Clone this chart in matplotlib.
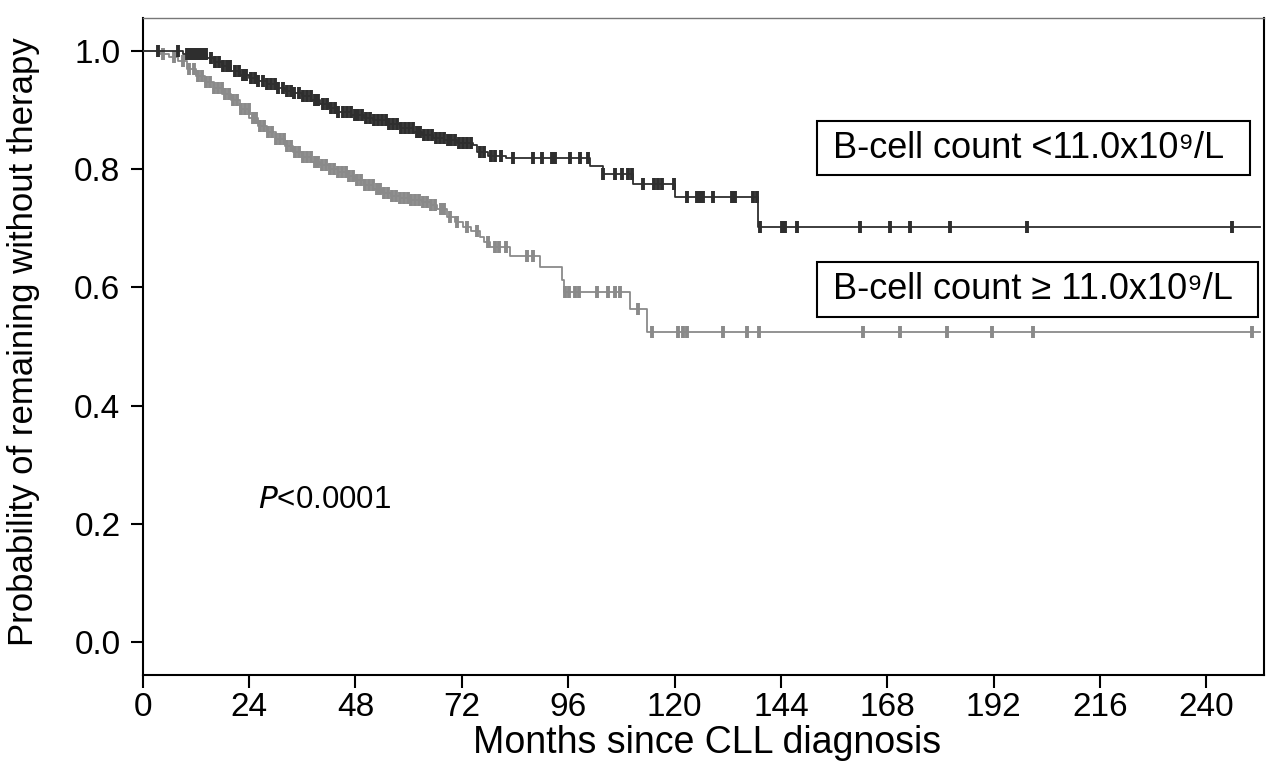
import numpy as np
import matplotlib
matplotlib.use('Agg')
import matplotlib.pyplot as plt
from matplotlib.patches import Rectangle

# Kaplan-Meier curves (months, probability)
low_t = [0, 9, 14.5, 16, 18, 20, 22, 24, 26, 28, 30, 32, 34, 36, 38, 40, 42, 44,
         47, 50, 52, 55, 58, 61, 63, 65.5, 68, 71, 74.5, 75.4, 78, 82, 101, 103.8,
         110.6, 120.1, 138.8]
low_s = [1.0, 0.995, 0.988, 0.982, 0.975, 0.966, 0.959, 0.955, 0.950, 0.944, 0.938,
         0.933, 0.929, 0.924, 0.918, 0.911, 0.904, 0.897, 0.892, 0.887, 0.883, 0.877,
         0.870, 0.863, 0.858, 0.853, 0.849, 0.845, 0.841, 0.829, 0.823, 0.819, 0.805,
         0.792, 0.775, 0.753, 0.703]
low_cens = [3.5, 8, 10, 10.6, 11.2, 11.8, 12.4, 13, 13.6, 14.2, 15.4, 16.3, 17.1, 18.2,
            19.0, 19.8, 20.9, 21.7, 22.6, 23.4, 24.5, 25.3, 26.1, 27.2, 28.0, 28.9,
            29.8, 30.6, 31.7, 32.5, 33.4, 34.2, 35.3, 36.1, 37.0, 37.9, 38.8, 39.6,
            40.7, 41.5, 42.4, 43.3, 44.1, 45.2, 46.0, 46.9, 47.8, 48.6, 49.5, 50.4,
            51.3, 52.1, 53.0, 53.9, 54.8, 55.6, 56.5, 57.4, 58.3, 59.1, 60.0, 60.9,
            61.8, 62.6, 63.5, 64.4, 65.3, 66.1, 67.0, 67.9, 68.8, 69.6, 70.5, 71.4,
            72.3, 73.1, 74.0, 76.0, 77.0, 78.6, 79.5, 80.8, 83.5, 88.0, 90.1, 92.3,
            93.0, 96.4, 98.6, 100.4, 103.8, 106.5, 108.1, 109.5, 110.4, 112.9, 115.3,
            116.2, 117.2, 119.8, 122.8, 125.0, 125.7, 126.4, 128.7, 133.0, 133.6,
            137.7, 138.6, 139.3, 144.2, 144.9, 147.6, 161.8, 168.6, 173.1, 182.1,
            199.5, 245.7]

high_t = [0, 4, 6, 8, 10, 12, 14, 16, 18, 20, 22, 24, 26, 28, 30, 32, 34, 36, 38, 40,
          42, 44, 46, 48, 50, 52, 54, 56, 58, 60, 63, 65, 66.4, 68.6, 70.5, 72.3, 74,
          76.1, 77, 78.4, 82.9, 89.6, 94.6, 95, 110, 113.8]
high_s = [1.0, 0.995, 0.990, 0.983, 0.970, 0.958, 0.948, 0.938, 0.928, 0.917, 0.902,
          0.887, 0.874, 0.863, 0.852, 0.840, 0.829, 0.820, 0.813, 0.807, 0.801, 0.796,
          0.789, 0.781, 0.773, 0.766, 0.760, 0.755, 0.751, 0.748, 0.745, 0.740, 0.732,
          0.720, 0.711, 0.703, 0.695, 0.686, 0.677, 0.668, 0.653, 0.634, 0.613, 0.593,
          0.563, 0.525]
high_cens = [4.5, 7.0, 9.0, 10.4, 11.6, 12.5, 13.4, 14.3, 15.1, 16.0, 16.9, 17.8, 18.6,
             19.5, 20.4, 21.3, 22.1, 23.0, 23.9, 24.8, 25.6, 26.5, 27.4, 28.3, 29.1,
             30.0, 30.9, 31.8, 32.6, 33.5, 34.4, 35.3, 36.1, 37.0, 37.9, 38.8, 39.6,
             40.5, 41.4, 42.3, 43.1, 44.0, 44.9, 45.8, 46.6, 47.5, 48.4, 49.3, 50.1,
             51.0, 51.9, 52.8, 53.6, 54.5, 55.4, 56.3, 57.1, 58.0, 58.9, 59.8, 60.6,
             61.5, 62.4, 63.3, 64.1, 65.0, 66.0, 67.2, 68.0, 69.3, 70.9, 73.2, 75.4,
             77.8, 79.5, 80.5, 82.0, 86.7, 88.0, 95.3, 96.2, 97.5, 98.5, 102.5, 105.0,
             106.5, 107.7, 111.7, 114.9, 120.7, 121.9, 122.8, 130.9, 136.3, 139.0,
             162.5, 170.9, 181.4, 191.6, 200.8, 250.4]

t_end = 252
x_ticks = [0, 24, 48, 72, 96, 120, 144, 168, 192, 216, 240]
y_ticks = [0.0, 0.2, 0.4, 0.6, 0.8, 1.0]
label_low = 'B-cell count <11.0x10\u2079/L'
label_high = 'B-cell count \u2265 11.0x10\u2079/L'

plt.rcParams['font.family'] = ['Liberation Sans', 'DejaVu Sans']


def draw_km(ax, t, s, cens, color):
  t = np.append(t, t_end)
  s = np.append(s, s[-1])
  ax.step(t, s, where='post', color=color, lw=1.3, zorder=3)
  idx = np.searchsorted(t, cens, side='right') - 1
  ax.plot(cens, s[idx], ls='none', marker='|', ms=8, mew=2.8,
          color=color, zorder=3)


fig = plt.figure(figsize=(12.8, 7.75), dpi=100)
ax = fig.add_axes([0.1115, 0.129, 0.876, 0.8478])

draw_km(ax, high_t, high_s, high_cens, '#8a8a8a')
draw_km(ax, low_t, low_s, low_cens, '#2e2e2e')

ax.set_xlim(0, 253)
ax.set_ylim(-0.056, 1.056)
ax.set_xticks(x_ticks)
ax.set_yticks(y_ticks)
ax.set_yticklabels(['{:.1f}'.format(v) for v in y_ticks])
ax.tick_params(axis='both', direction='out', length=9, width=1.5, labelsize=24)
ax.tick_params(axis='x', pad=3)
ax.tick_params(axis='y', pad=7)
for sp in ax.spines.values():
  sp.set_linewidth(1.5)
ax.spines['top'].set_color('#777777')
ax.spines['top'].set_linewidth(1.0)

ax.set_xlabel('Months since CLL diagnosis', fontsize=27)
ax.set_ylabel('Probability of remaining without therapy', fontsize=25)
ax.xaxis.set_label_coords(0.503, -0.076)
ax.yaxis.set_label_coords(-0.092, 0.508)

# legend boxes
for (x0, x1, y0, y1, txt) in [(0.601, 0.9875, 0.761, 0.843, label_low),
                              (0.601, 0.9947, 0.545, 0.6286, label_high)]:
  ax.add_patch(Rectangle((x0, y0), x1-x0, y1-y0, transform=ax.transAxes,
               fill=True, fc='white', ec='black', lw=1.5, zorder=4))
  ax.text(0.6156, (y0+y1)/2, txt, transform=ax.transAxes, fontsize=26,
          ha='left', va='center', zorder=5)

ax.text(0.103, 0.266, '$P$<0.0001', transform=ax.transAxes, fontsize=22.5,
        ha='left', va='center')

fig.savefig('out.png', dpi=100)
